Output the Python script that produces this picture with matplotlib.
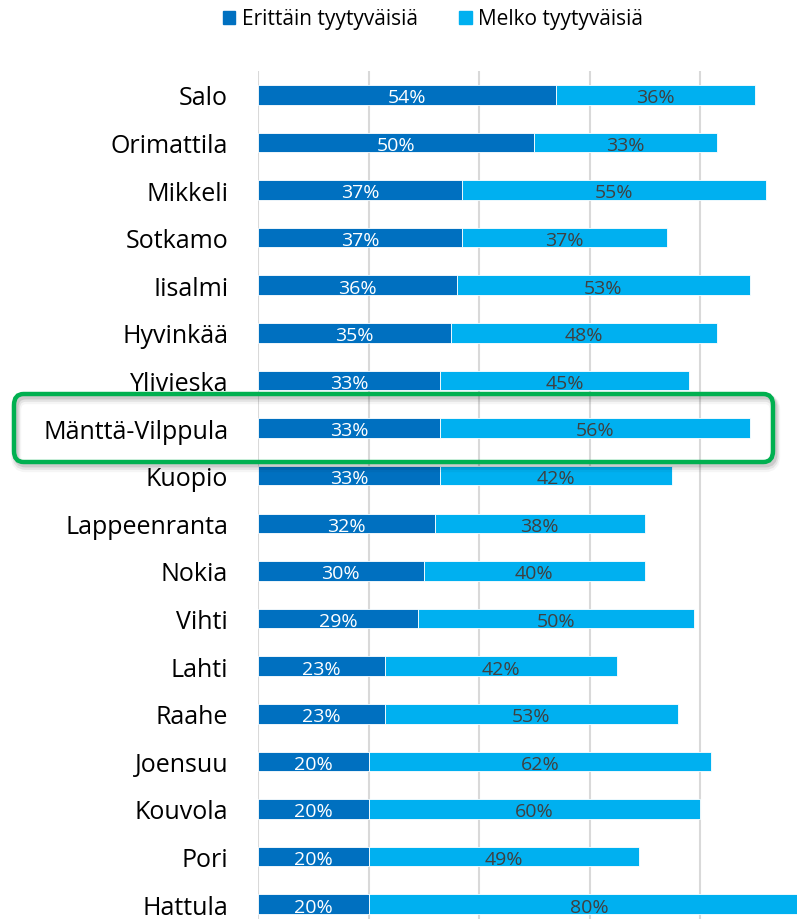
import numpy as np
import matplotlib.pyplot as plt
from matplotlib.patches import FancyBboxPatch, Patch

plt.rcParams['font.family'] = ['Open Sans', 'DejaVu Sans']

cities = ['Salo', 'Orimattila', 'Mikkeli', 'Sotkamo', 'Iisalmi', 'Hyvinkää',
          'Ylivieska', 'Mänttä-Vilppula', 'Kuopio', 'Lappeenranta', 'Nokia',
          'Vihti', 'Lahti', 'Raahe', 'Joensuu', 'Kouvola', 'Pori', 'Hattula']
very = [54, 50, 37, 37, 36, 35, 33, 33, 33, 32, 30, 29, 23, 23, 20, 20, 20, 20]
fairly = [36, 33, 55, 37, 53, 48, 45, 56, 42, 38, 40, 50, 42, 53, 62, 60, 49, 80]
series_names = ['Erittäin tyytyväisiä', 'Melko tyytyväisiä']

dark = '#0070C0'
light = '#00B0F0'

W, H = 797, 920
fig = plt.figure(figsize=(W / 100, H / 100), dpi=100)
ax = fig.add_axes([258 / W, 1 - 929 / H, 552.5 / W, (929 - 72) / H])

y = np.arange(len(cities))
very = np.array(very)
fairly = np.array(fairly)
ax.barh(y, very, height=0.41, color=dark, edgecolor='white', linewidth=0.6, zorder=3)
ax.barh(y, fairly, left=very, height=0.41, color=light, edgecolor='white', linewidth=0.6, zorder=3)

for i in range(len(cities)):
    ax.text(very[i] / 2, y[i] + 0.05, f'{very[i]}%', ha='center', va='center',
            color='white', fontsize=14, zorder=4)
    ax.text(very[i] + fairly[i] / 2, y[i] + 0.05, f'{fairly[i]}%', ha='center', va='center',
            color='#404040', fontsize=14, zorder=4)

ax.set_xlim(0, 100)
ax.set_ylim(len(cities) - 0.5, -0.5)
ax.set_xticks([0, 20, 40, 60, 80, 100])
ax.set_xticklabels([])
ax.grid(axis='x', color='#d9d9d9', linewidth=1.5, zorder=0)
ax.tick_params(axis='x', length=0)
ax.tick_params(axis='y', length=0, pad=21.5)
ax.set_yticks(y)
ax.set_yticklabels(cities, fontsize=18, color='black')
for s in ax.spines.values():
    s.set_visible(False)

handles = [Patch(color=dark), Patch(color=light)]
fig.legend(handles, series_names, loc='center', bbox_to_anchor=(433 / W, 1 - 20 / H),
           ncol=2, frameon=False, fontsize=15, handlelength=0.6, handleheight=0.6,
           handletextpad=0.3, columnspacing=2.0)

# highlight box with a soft shadow
x0, y0, x1, y1 = 14, 395, 773, 463
for k, a in enumerate([0.10, 0.07, 0.04]):
    sh = FancyBboxPatch(((x0 + 2) / W, 1 - (y1 + 3 + k) / H), (x1 - x0) / W, (y1 - y0) / H,
                        boxstyle='round,pad=0,rounding_size=0.012',
                        transform=fig.transFigure, fill=False,
                        edgecolor='black', alpha=a, linewidth=3.5 + 2 * k, zorder=9)
    fig.patches.append(sh)
box = FancyBboxPatch((x0 / W, 1 - y1 / H), (x1 - x0) / W, (y1 - y0) / H,
                     boxstyle='round,pad=0,rounding_size=0.012',
                     transform=fig.transFigure, facecolor='none',
                     edgecolor='#00B050', linewidth=3.2, zorder=10)
fig.patches.append(box)

fig.savefig('out.png', dpi=100)
